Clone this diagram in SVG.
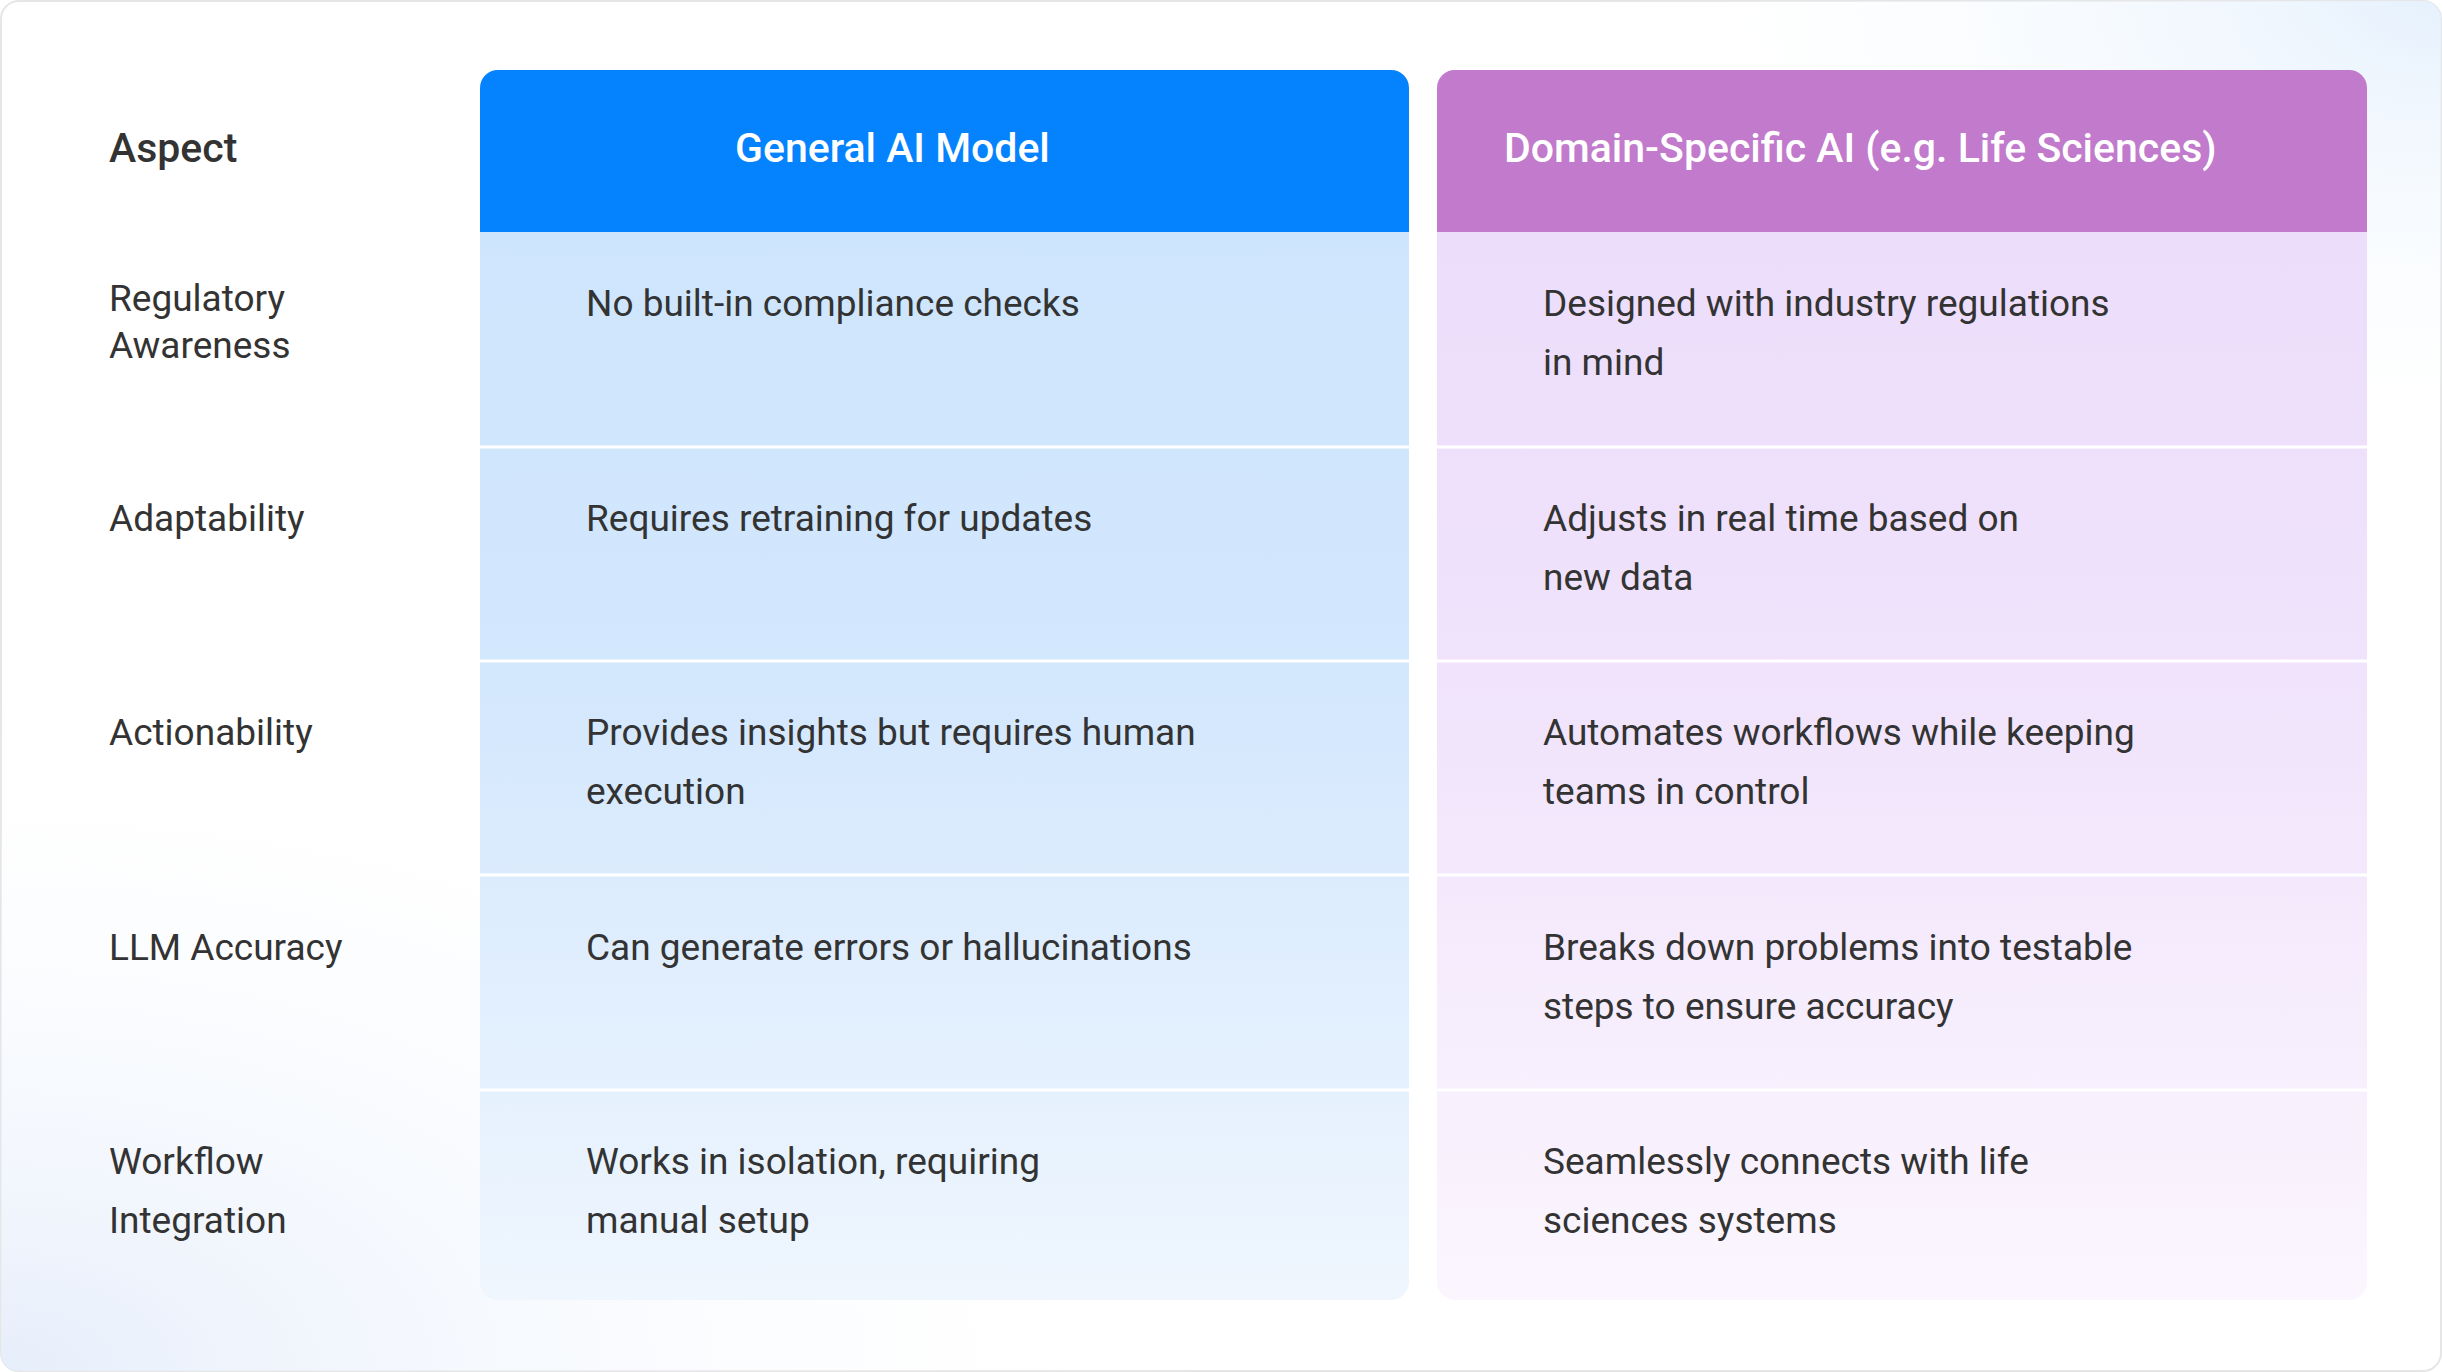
<svg xmlns="http://www.w3.org/2000/svg" width="2442" height="1372" viewBox="0 0 2442 1372">
<defs>
<style>
.t{font-family:Roboto,"Liberation Sans",sans-serif;fill:#333;font-size:37px}
.h{font-family:Roboto,"Liberation Sans",sans-serif;fill:#fff;font-size:41px;font-weight:500}
.a{font-family:Roboto,"Liberation Sans",sans-serif;fill:#333;font-size:41px;font-weight:500}
.sep{stroke:#fff;stroke-width:3}
</style>
<linearGradient id="g1" x1="0" y1="0" x2="0" y2="1"><stop offset="0" stop-color="#cce5fd"/><stop offset="0.5" stop-color="#d3e7fd"/><stop offset="1" stop-color="#eff6fe"/></linearGradient>
<linearGradient id="g2" x1="0" y1="0" x2="0" y2="1"><stop offset="0" stop-color="#ebdbfb"/><stop offset="0.5" stop-color="#f0e3fb"/><stop offset="1" stop-color="#fbf6fe"/></linearGradient>
<radialGradient id="bg1" cx="0" cy="1" r="0.5"><stop offset="0" stop-color="#e6eefb"/><stop offset="1" stop-color="#fff" stop-opacity="0"/></radialGradient>
<radialGradient id="bg2" cx="1" cy="0" r="0.35"><stop offset="0" stop-color="#e6f1fd"/><stop offset="1" stop-color="#fff" stop-opacity="0"/></radialGradient>
<clipPath id="c1"><rect x="480" y="70" width="929" height="1230" rx="18"/></clipPath>
<clipPath id="c2"><rect x="1437" y="70" width="930" height="1230" rx="18"/></clipPath>
</defs>
<rect x="1" y="1" width="2440" height="1370" rx="18" fill="#fff" stroke="#e6e6e6" stroke-width="2"/>
<rect x="1" y="1" width="2440" height="1370" rx="18" fill="url(#bg1)"/>
<rect x="1" y="1" width="2440" height="1370" rx="18" fill="url(#bg2)"/>
<g id="aspect-col">
<text class="a" x="109" y="162">Aspect</text>
<text class="t" x="109" y="311">Regulatory</text><text class="t" x="109" y="358">Awareness</text>
<text class="t" x="109" y="531">Adaptability</text>
<text class="t" x="109" y="745">Actionability</text>
<text class="t" x="109" y="960">LLM Accuracy</text>
<text class="t" x="109" y="1174">Workflow</text><text class="t" x="109" y="1233">Integration</text>
</g>
<g id="general-col" clip-path="url(#c1)">
<rect x="480" y="70" width="929" height="1230" fill="url(#g1)"/>
<rect x="480" y="70" width="929" height="162" fill="#0583fe"/>
<text class="h" x="735" y="162">General AI Model</text>
<line class="sep" x1="480" y1="447" x2="1409" y2="447"/><line class="sep" x1="480" y1="661" x2="1409" y2="661"/><line class="sep" x1="480" y1="875" x2="1409" y2="875"/><line class="sep" x1="480" y1="1090" x2="1409" y2="1090"/>
<text class="t" x="586" y="316">No built-in compliance checks</text>
<text class="t" x="586" y="531">Requires retraining for updates</text>
<text class="t" x="586" y="745">Provides insights but requires human</text><text class="t" x="586" y="804">execution</text>
<text class="t" x="586" y="960">Can generate errors or hallucinations</text>
<text class="t" x="586" y="1174">Works in isolation, requiring</text><text class="t" x="586" y="1233">manual setup</text>
</g>
<g id="domain-col" clip-path="url(#c2)">
<rect x="1437" y="70" width="930" height="1230" fill="url(#g2)"/>
<rect x="1437" y="70" width="930" height="162" fill="#c17acc"/>
<text class="h" x="1504" y="162">Domain-Specific AI (e.g. Life Sciences)</text>
<line class="sep" x1="1437" y1="447" x2="2367" y2="447"/><line class="sep" x1="1437" y1="661" x2="2367" y2="661"/><line class="sep" x1="1437" y1="875" x2="2367" y2="875"/><line class="sep" x1="1437" y1="1090" x2="2367" y2="1090"/>
<text class="t" x="1543" y="316">Designed with industry regulations</text><text class="t" x="1543" y="375">in mind</text>
<text class="t" x="1543" y="531">Adjusts in real time based on</text><text class="t" x="1543" y="590">new data</text>
<text class="t" x="1543" y="745">Automates workflows while keeping</text><text class="t" x="1543" y="804">teams in control</text>
<text class="t" x="1543" y="960">Breaks down problems into testable</text><text class="t" x="1543" y="1019">steps to ensure accuracy</text>
<text class="t" x="1543" y="1174">Seamlessly connects with life</text><text class="t" x="1543" y="1233">sciences systems</text>
</g>
<g id="connectors"/>
</svg>
